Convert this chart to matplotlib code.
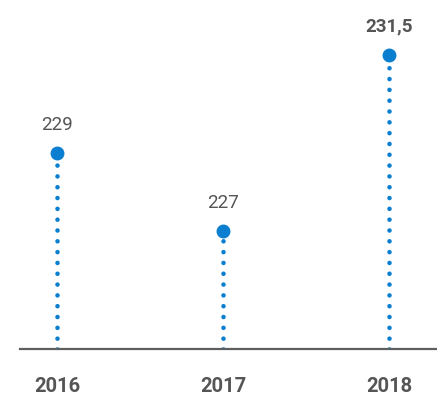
import matplotlib.pyplot as plt

years = ["2016", "2017", "2018"]
values = [229, 227, 231.5]
value_labels = ["229", "227", "231,5"]
bold_value = [False, False, True]

blue = "#0b7fcf"
grey = "#555555"

plt.rcParams['font.family'] = ['Roboto', 'DejaVu Sans']

fig = plt.figure(figsize=(4.37, 3.97), dpi=100)
ax = fig.add_axes([20 / 437, 1 - 349 / 397, 417 / 437, 349 / 397])

x = list(range(len(years)))
base = 223.98

# dotted stems from the baseline up to each point
for xi, v in zip(x, values):
    ax.plot([xi, xi], [base, v], color=blue, linewidth=3.3,
            linestyle=(0, (0.01, 2.35)), dash_capstyle='round', zorder=2)
ax.plot(x, values, 'o', color=blue, markersize=9, zorder=3)

for xi, v, lbl, b in zip(x, values, value_labels, bold_value):
    ax.annotate(lbl, (xi, v), xytext=(0, 16.5), textcoords='offset points',
                ha='center', va='baseline', fontsize=13.5, color=grey,
                fontweight='bold' if b else 'normal')

ax.set_xlim(-37 / 166, 2 + 48 / 166)
ax.set_ylim(base, 232.9)

for s in ['top', 'right', 'left']:
    ax.spines[s].set_visible(False)
ax.spines['bottom'].set_color('#5e5e5e')
ax.spines['bottom'].set_linewidth(1.6)
ax.set_yticks([])
ax.set_xticks(x)
ax.set_xticklabels(years, fontsize=14.5, fontweight='bold', color=grey)
ax.tick_params(axis='x', length=0, pad=20)

fig.savefig("out.png", dpi=100)
